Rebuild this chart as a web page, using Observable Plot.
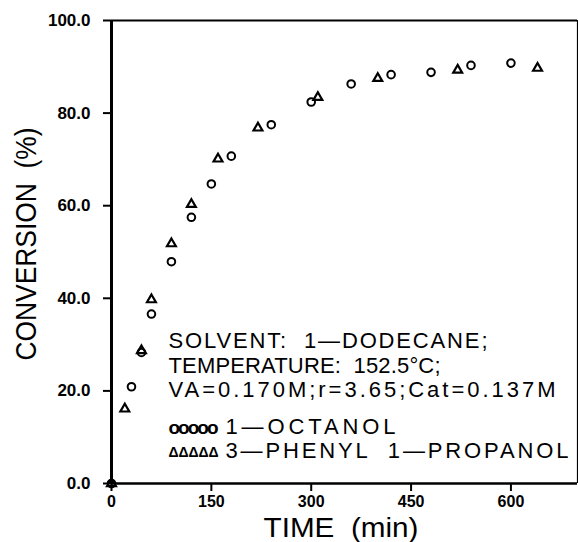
<!DOCTYPE html>
<html>
<head>
<meta charset="utf-8">
<script src="https://cdn.jsdelivr.net/npm/d3@7"></script>
<script src="https://cdn.jsdelivr.net/npm/@observablehq/plot@0.6"></script>
<style>
  html, body { margin: 0; padding: 0; background: white; }
  svg text { white-space: pre; }
</style>
</head>
<body>
<div id="chart"></div>
<script>
// ---- data ----
const octanolTime = [0, 30, 45, 60, 90, 120, 150, 180, 240, 300, 360, 420, 480, 540, 600];
const octanolConv = [0, 20.9, 28.3, 36.6, 47.9, 57.5, 64.7, 70.7, 77.5, 82.4, 86.3, 88.3, 88.8, 90.3, 90.8];
const phenylTime = [0, 20, 45, 60, 90, 120, 160, 220, 310, 400, 520, 640];
const phenylConv = [0, 16.1, 28.7, 39.7, 51.8, 60.3, 70.1, 76.8, 83.4, 87.5, 89.3, 89.7];
const xTicks = [0, 150, 300, 450, 600];
const yTicks = [0, 20, 40, 60, 80, 100];
const xLabel = "TIME  (min)";
const yLabel = "CONVERSION  (%)";
const noteLines = ["SOLVENT:  1—DODECANE;", "TEMPERATURE:  152.5°C;", "VA=0.170M;r=3.65;Cat=0.137M"];
const seriesNames = ["1—OCTANOL", "3—PHENYL  1—PROPANOL"];
const seriesSymbols = ["ooooo", "ΔΔΔΔΔ"];

const octanol = octanolTime.map((t, i) => ({time: t, conv: octanolConv[i]}));
const phenyl = phenylTime.map((t, i) => ({time: t, conv: phenylConv[i]}));

// ---- layout (pixel offsets from frame top-left, text fitting) ----
const noteDy = [327, 352, 376];
const legendDy = [413, 437];
const fit = {};
fit[yLabel] = [233, "spacingAndGlyphs"];
fit[xLabel] = [155, "spacingAndGlyphs"];
fit[noteLines[0]] = [319, "spacing"];
fit[noteLines[1]] = [272, "spacing"];
fit[noteLines[2]] = [387, "spacing"];
fit[seriesNames[0]] = [170, "spacing"];
fit[seriesNames[1]] = [343, "spacing"];
fit[seriesSymbols[0]] = [50, "spacing"];
fit[seriesSymbols[1]] = [50, "spacing"];

const font = "Liberation Sans, Arial, sans-serif";

const marks = [
  Plot.axisY({ticks: yTicks, tickFormat: d3.format(".1f"), tickSize: 8, tickPadding: 13,
    strokeWidth: 2, fontSize: 17, fontWeight: "bold", label: null}),
  Plot.axisX({ticks: xTicks, tickSize: 8, tickPadding: 4,
    strokeWidth: 2, fontSize: 16, fontWeight: "bold", label: null}),
  Plot.ruleX([0], {strokeWidth: 3}),
  Plot.ruleX([700], {strokeWidth: 1.2}),
  Plot.ruleY([0], {strokeWidth: 2.5}),
  Plot.ruleY([100], {strokeWidth: 2}),
  Plot.dot(octanol, {x: "time", y: "conv", symbol: "circle", r: 3.8, stroke: "black", strokeWidth: 2, fill: "none"}),
  Plot.dot(phenyl, {x: "time", y: "conv", symbol: "triangle", r: 3.3, stroke: "black", strokeWidth: 2.2, fill: "none"}),
  Plot.text([yLabel], {frameAnchor: "left", rotate: -90, dx: -76, dy: -8, textAnchor: "middle",
    lineAnchor: "bottom", fontSize: 30, fontFamily: font}),
  Plot.text([xLabel], {frameAnchor: "bottom", dx: -3.5, dy: 53, textAnchor: "middle",
    lineAnchor: "bottom", fontSize: 28, fontFamily: font}),
  ...noteLines.map((s, i) => Plot.text([s], {frameAnchor: "top-left", dx: 57, dy: noteDy[i],
    textAnchor: "start", lineAnchor: "bottom", fontSize: 22, fontFamily: font})),
  ...seriesNames.map((s, i) => Plot.text([s], {frameAnchor: "top-left", dx: 114, dy: legendDy[i],
    textAnchor: "start", lineAnchor: "bottom", fontSize: 22, fontFamily: font})),
  Plot.text([seriesSymbols[0]], {frameAnchor: "top-left", dx: 57, dy: legendDy[0], textAnchor: "start",
    lineAnchor: "bottom", fontSize: 19, fontWeight: "bold", fontFamily: font}),
  Plot.text([seriesSymbols[1]], {frameAnchor: "top-left", dx: 57, dy: legendDy[1] - 1, textAnchor: "start",
    lineAnchor: "bottom", fontSize: 14, fontWeight: "bold", fontFamily: font})
];

const chart = Plot.plot({
  width: 578,
  height: 542,
  marginLeft: 111,
  marginRight: 1,
  marginTop: 20,
  marginBottom: 59,
  x: {domain: [0, 700]},
  y: {domain: [0, 100]},
  style: {fontFamily: font, background: "white", color: "black", overflow: "visible"},
  marks
});

chart.querySelectorAll("text").forEach(t => {
  const f = fit[t.textContent];
  if (f) {
    t.setAttribute("textLength", f[0]);
    t.setAttribute("lengthAdjust", f[1]);
  }
});

document.getElementById("chart").appendChild(chart);
</script>
</body>
</html>
